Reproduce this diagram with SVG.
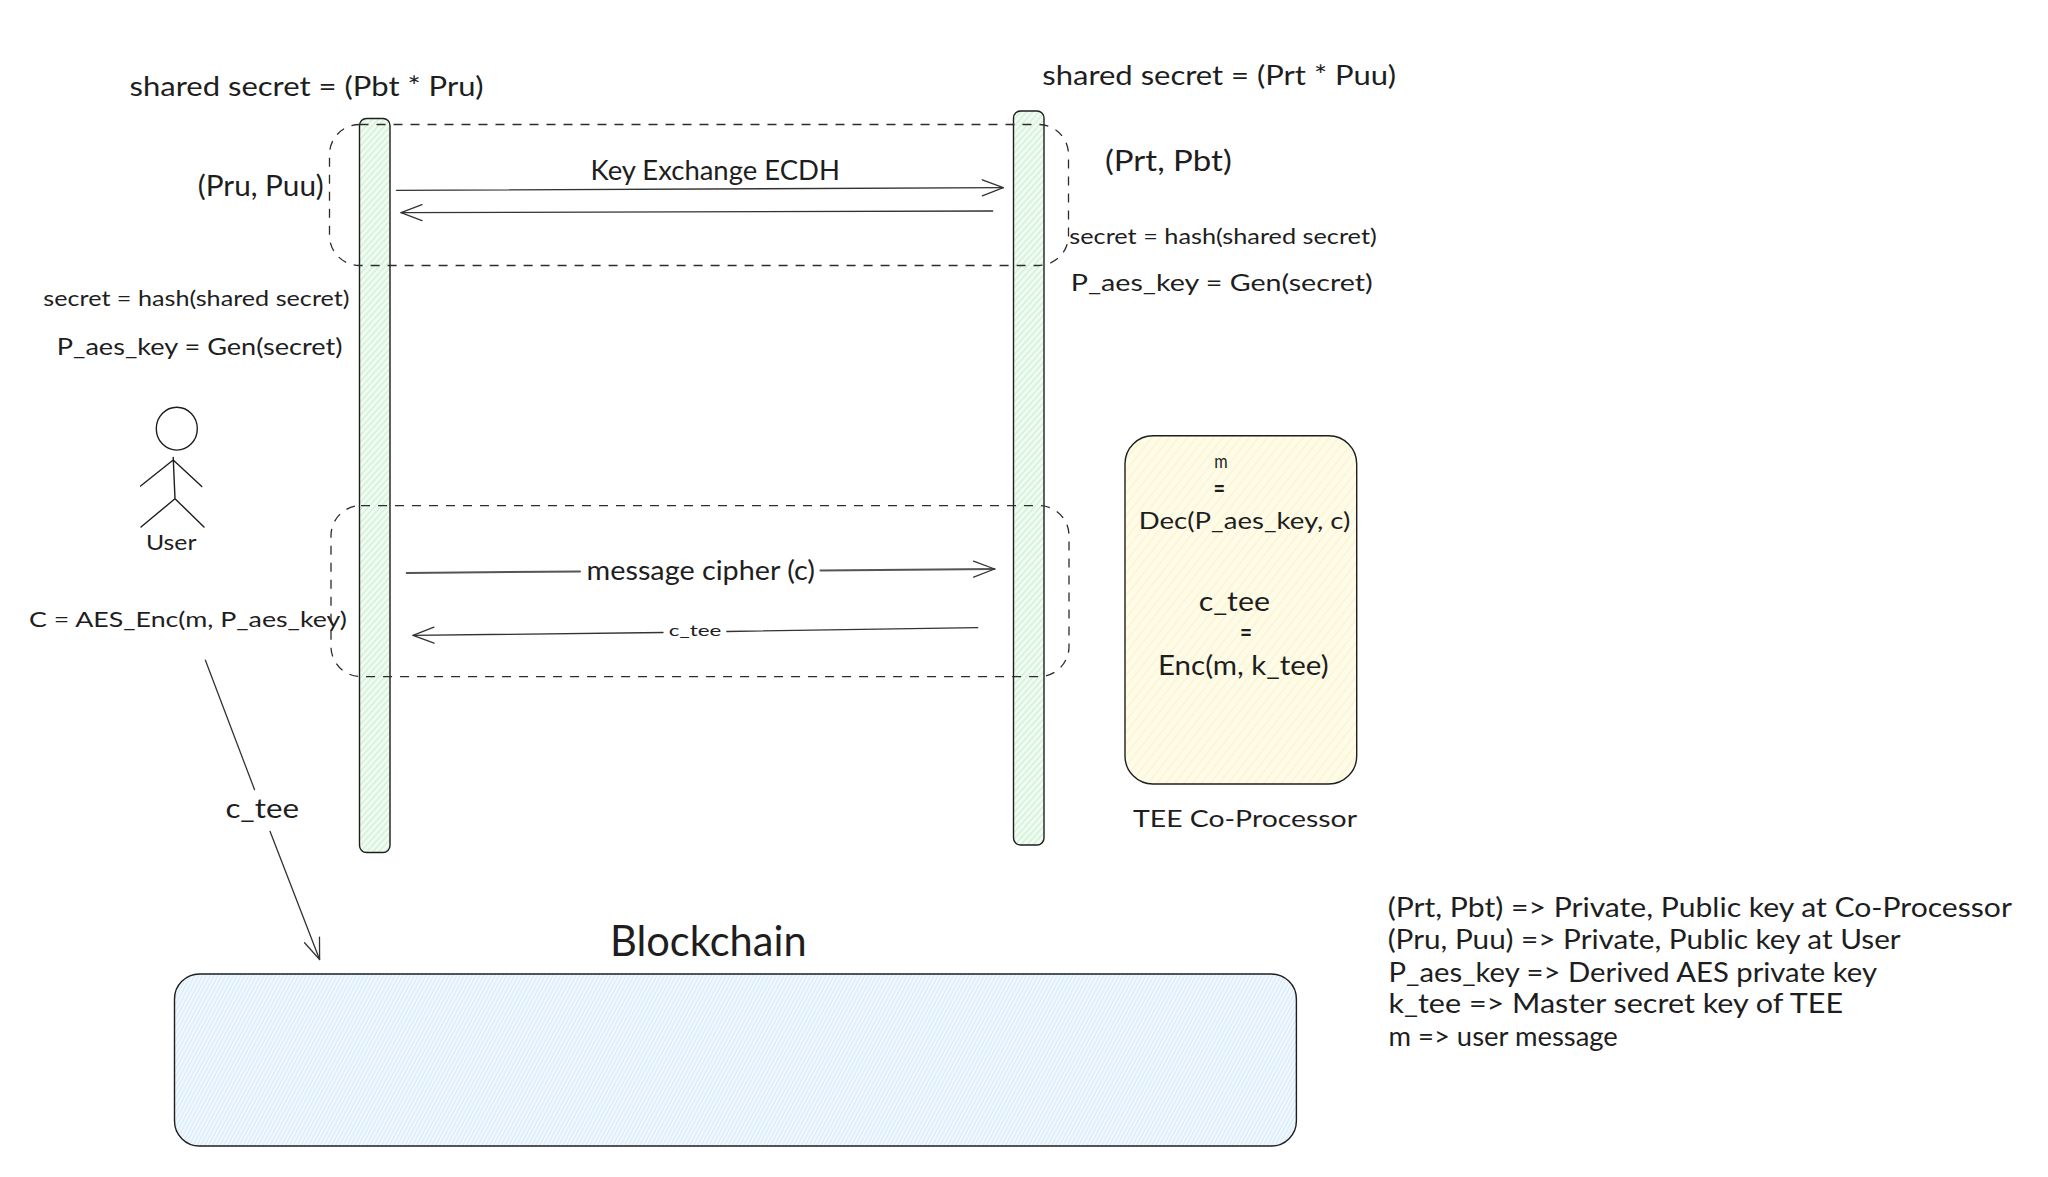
<svg xmlns="http://www.w3.org/2000/svg" width="2048" height="1177" viewBox="0 0 2048 1177">
<defs>
<pattern id="hG" width="4.5" height="4.5" patternUnits="userSpaceOnUse" patternTransform="rotate(-48)"><rect width="4.5" height="4.5" fill="#f0fbf1"/><line x1="0" y1="1" x2="4.5" y2="1" stroke="#cbf0d1" stroke-width="1.2"/></pattern>
<pattern id="hY" width="7" height="7" patternUnits="userSpaceOnUse" patternTransform="rotate(-52)"><rect width="7" height="7" fill="#fefce9"/><line x1="0" y1="1" x2="7" y2="1" stroke="#fbf5d0" stroke-width="1.6"/></pattern>
<pattern id="hB" width="3.4" height="3.4" patternUnits="userSpaceOnUse" patternTransform="rotate(-62)"><rect width="3.4" height="3.4" fill="#f1f8fe"/><line x1="0" y1="1" x2="3.4" y2="1" stroke="#d2e9fa" stroke-width="1"/></pattern>
<marker id="open" markerUnits="userSpaceOnUse" markerWidth="30" markerHeight="24" viewBox="-24 -12 30 24" refX="0" refY="0" orient="auto" overflow="visible"><path d="M-21,-8 L0,0 L-21,8" fill="none" stroke="#333" stroke-width="1.3" stroke-linecap="round" stroke-linejoin="round"/></marker>
</defs>
<style>
text{font-family:"Lato","Noto Sans","Liberation Sans",sans-serif;fill:#1e1e1e;font-weight:400}
.s{stroke:#1e1e1e;stroke-width:1.4;fill:none;stroke-linecap:round;stroke-linejoin:round}
.d{stroke:#2c2c2c;stroke-width:1.3;fill:none;stroke-dasharray:9 8}
.c{stroke:#333;stroke-width:1.3;fill:none;stroke-linecap:round}
.t{stroke:#555;stroke-width:2}
.eq{font-size:24px;font-weight:700}
.f16{font-size:16px}.f20{font-size:20px}.f22{font-size:22px}.f24{font-size:24px}.f26{font-size:26px}.f28{font-size:28px}.f42{font-size:42px}
</style>
<rect width="2048" height="1177" fill="#ffffff"/>
<g id="user-lifeline"><rect x="359.5" y="118.5" width="30.5" height="734" rx="7" class="s" style="fill:url(#hG)"/></g>
<g id="tee-lifeline"><rect x="1013.5" y="111" width="30.5" height="734" rx="7" class="s" style="fill:url(#hG)"/></g>
<g id="key-exchange-frame"><rect x="329.5" y="124.5" width="739" height="141" rx="30" class="d"/></g>
<g id="message-frame"><rect x="331" y="505.6" width="738" height="171" rx="30" class="d"/></g>
<g id="user">
<ellipse cx="176.8" cy="428.7" rx="20.5" ry="21.4" class="s"/>
<path class="s" d="M173.2,457.4 L175,498.7 M173.2,460 L140.6,486 M173.2,460 L201.8,486.5 M175,498.7 L141,527 M175,498.7 L204,527"/>
<text class="f22" x="146" y="550.4" textLength="50.4" lengthAdjust="spacingAndGlyphs">User</text>
</g>
<g id="tee-coprocessor">
<rect x="1125" y="435.7" width="231.7" height="348.3" rx="28" class="s" style="fill:url(#hY)"/>
<text class="f20" x="1214.3" y="468" textLength="13.4" lengthAdjust="spacingAndGlyphs">m</text>
<text class="eq" x="1213.4" y="497" textLength="11.6" lengthAdjust="spacingAndGlyphs">=</text>
<text class="f24" x="1138.8" y="528.5" textLength="211.6" lengthAdjust="spacingAndGlyphs">Dec(P_aes_key, c)</text>
<text class="f26" x="1198.7" y="610.7" textLength="71.3" lengthAdjust="spacingAndGlyphs">c_tee</text>
<text class="eq" x="1240" y="640.5" textLength="12" lengthAdjust="spacingAndGlyphs">=</text>
<text class="f26" x="1158" y="675" textLength="170.6" lengthAdjust="spacingAndGlyphs">Enc(m, k_tee)</text>
<text class="f24" x="1133" y="827.3" textLength="224" lengthAdjust="spacingAndGlyphs">TEE Co-Processor</text>
</g>
<g id="blockchain">
<rect x="174.5" y="974" width="1121.9" height="172" rx="25" class="s" style="fill:url(#hB)"/>
<text class="f42" x="610" y="955.7" textLength="196.6" lengthAdjust="spacingAndGlyphs">Blockchain</text>
</g>
<g id="connectors">
<line class="c" x1="396.4" y1="190.3" x2="1003.3" y2="187.7" marker-end="url(#open)"/>
<line class="c" x1="992.7" y1="211" x2="401" y2="212.7" marker-end="url(#open)"/>
<text class="f26" x="590.5" y="180" textLength="249.5" lengthAdjust="spacingAndGlyphs">Key Exchange ECDH</text>
<line class="c t" x1="406.7" y1="573" x2="580" y2="571.5"/>
<line class="c t" x1="820.5" y1="570.5" x2="994.6" y2="569" marker-end="url(#open)"/>
<text class="f26" x="586.6" y="579.5" textLength="228.4" lengthAdjust="spacingAndGlyphs">message cipher (c)</text>
<line class="c" x1="977.7" y1="627.7" x2="726.8" y2="631.5"/>
<line class="c" x1="663" y1="632.5" x2="413" y2="635.4" marker-end="url(#open)"/>
<text class="f16" x="668.7" y="636" textLength="52.7" lengthAdjust="spacingAndGlyphs">c_tee</text>
<line class="c" x1="205.4" y1="660.2" x2="254.5" y2="789.6"/>
<line class="c" x1="270" y1="831.3" x2="319.6" y2="959.5" marker-end="url(#open)"/>
<text class="f26" x="225.4" y="817.5" textLength="73.6" lengthAdjust="spacingAndGlyphs">c_tee</text>
</g>
<g id="labels">
<text class="f26" x="129.5" y="95.5" textLength="354" lengthAdjust="spacingAndGlyphs">shared secret = (Pbt * Pru)</text>
<text class="f26" x="1042.3" y="84.8" textLength="353.7" lengthAdjust="spacingAndGlyphs">shared secret = (Prt * Puu)</text>
<text class="f28" x="1105" y="170.5" textLength="126.7" lengthAdjust="spacingAndGlyphs">(Prt, Pbt)</text>
<text class="f28" x="197.8" y="196" textLength="125.9" lengthAdjust="spacingAndGlyphs">(Pru, Puu)</text>
<text class="f22" x="43.3" y="305.7" textLength="306.2" lengthAdjust="spacingAndGlyphs">secret = hash(shared secret)</text>
<text class="f24" x="56.7" y="355" textLength="285.7" lengthAdjust="spacingAndGlyphs">P_aes_key = Gen(secret)</text>
<text class="f22" x="1069.3" y="244" textLength="307.4" lengthAdjust="spacingAndGlyphs">secret = hash(shared secret)</text>
<text class="f24" x="1070.7" y="291" textLength="302" lengthAdjust="spacingAndGlyphs">P_aes_key = Gen(secret)</text>
<text class="f22" x="29" y="626.5" textLength="317.9" lengthAdjust="spacingAndGlyphs">C = AES_Enc(m, P_aes_key)</text>
</g>
<g id="legend">
<text class="f26" x="1387.7" y="916.7" textLength="624.2" lengthAdjust="spacingAndGlyphs">(Prt, Pbt) => Private, Public key at Co-Processor</text>
<text class="f26" x="1387.7" y="949" textLength="513" lengthAdjust="spacingAndGlyphs">(Pru, Puu) => Private, Public key at User</text>
<text class="f26" x="1388.5" y="981.7" textLength="488.5" lengthAdjust="spacingAndGlyphs">P_aes_key => Derived AES private key</text>
<text class="f26" x="1388.5" y="1013.3" textLength="454.5" lengthAdjust="spacingAndGlyphs">k_tee => Master secret key of TEE</text>
<text class="f26" x="1388.5" y="1045.7" textLength="229.3" lengthAdjust="spacingAndGlyphs">m => user message</text>
</g>
</svg>
